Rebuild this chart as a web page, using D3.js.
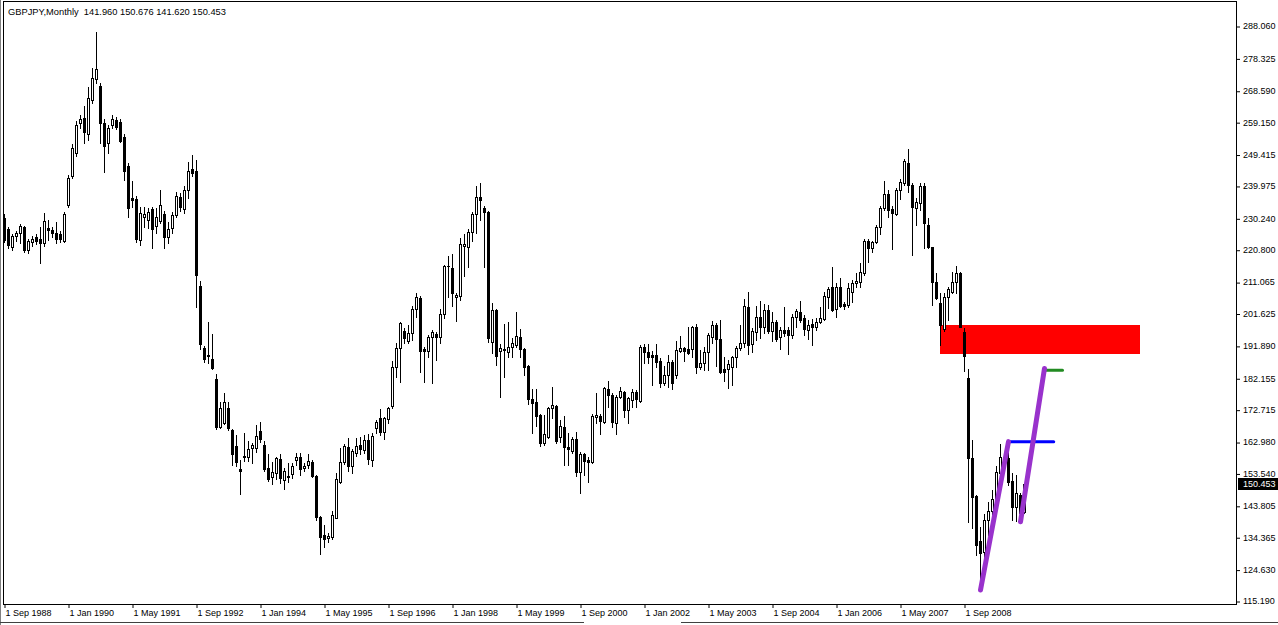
<!DOCTYPE html>
<html><head><meta charset="utf-8">
<script src="https://cdn.jsdelivr.net/npm/d3@7"></script>
<style>
html,body{margin:0;padding:0;background:#fff;}
svg{display:block;}
text{font-family:"Liberation Sans",Arial,sans-serif;}
</style></head><body>
<svg id="chart" width="1278" height="625"></svg>
<script>
// ---- data (monthly GBPJPY, first bar = Sep 1988) ----
const symbolTitle = "GBPJPY,Monthly";
const lastQuote = ["141.960", "150.676", "141.620", "150.453"];
const firstBar = { year: 1988, month: 8 };

const opens = [
230.2,226.9,221.7,225.0,225.7,227.5,220.7,223.0,224.5,224.0,222.9,227.2,226.7,225.7,225.5,223.5,
234.3,243.1,249.8,259.0,260.3,255.5,265.8,272.0,270.0,258.8,253.0,258.4,259.8,259.3,254.6,246.1,
236.2,236.0,223.7,230.5,229.7,233.0,228.0,229.4,231.5,224.7,227.2,231.2,236.7,232.9,238.9,245.1,
244.6,209.9,191.3,189.2,187.9,181.8,167.6,168.6,173.1,166.6,161.8,154.9,158.4,158.4,161.1,161.1,
166.3,162.1,155.1,152.4,153.8,157.8,151.6,152.4,153.4,157.6,158.6,155.1,156.1,157.1,152.8,140.5,
135.0,134.0,134.3,140.2,150.9,157.1,161.4,155.8,159.6,162.1,160.6,163.6,157.6,167.1,170.1,166.1,
169.8,173.8,185.4,191.2,196.4,193.5,195.7,202.9,206.2,190.9,190.5,194.5,195.5,194.5,201.5,215.8,
215.2,206.5,206.9,222.0,221.7,226.2,231.5,236.6,233.2,232.2,193.2,202.7,190.5,190.6,190.2,191.5,
192.2,194.5,190.9,185.8,175.8,175.1,171.1,162.8,164.6,173.1,173.9,164.4,167.4,161.4,160.4,163.8,
154.1,159.4,157.6,157.1,170.6,170.8,169.1,178.8,177.1,168.8,176.4,178.1,172.6,175.6,178.1,175.4,
191.7,190.2,189.2,189.2,187.4,180.8,183.1,187.1,183.1,190.4,191.4,190.9,191.1,197.5,185.6,186.6,
189.9,194.5,198.2,193.9,184.8,184.8,185.6,188.6,191.2,192.7,203.7,192.4,196.2,200.7,197.7,202.7,
196.5,199.2,194.5,196.7,196.7,195.2,200.5,202.2,200.2,196.7,198.5,197.7,199.2,199.9,206.5,209.7,
202.9,209.7,204.5,204.2,208.2,210.7,211.0,213.7,223.5,221.2,223.2,227.5,233.2,237.6,232.9,231.5,
238.8,241.0,247.0,240.3,233.2,234.9,239.9,228.2,221.5,211.2,204.7,196.9,206.7,208.2,211.2,213.9,
196.2,182.2,158.1,146.8,133.3,130.0,139.5,142.1,145.8,153.8,158.6,158.1,151.4,143.6,147.1,141.96
];
const highs = [
231.5,227.5,225.5,226.5,228.5,228.0,224.0,225.0,225.5,227.7,231.9,229.7,227.5,229.0,226.5,232.2,
243.3,252.5,259.5,261.3,264.0,269.8,275.3,286.3,271.0,260.0,258.3,261.3,260.8,260.0,255.5,247.0,
241.5,237.0,233.7,233.7,233.2,233.5,233.2,238.8,232.5,229.2,232.0,238.3,238.0,240.0,247.3,249.3,
247.8,211.4,191.9,199.0,195.5,183.4,174.9,177.6,175.1,167.0,165.1,157.6,165.8,163.4,162.8,168.1,
169.1,163.4,159.4,157.1,158.6,159.4,155.1,156.6,156.6,159.6,159.6,156.8,159.4,157.6,153.0,140.7,
138.1,135.5,142.1,153.6,161.3,162.5,164.3,161.0,164.1,164.6,165.1,165.4,165.6,169.6,172.8,170.6,
173.6,187.2,192.9,199.2,197.2,198.2,203.9,207.7,206.9,191.5,195.2,196.7,196.2,202.9,216.2,218.9,
219.4,207.7,224.2,225.5,227.0,232.2,240.0,241.0,233.9,232.5,204.9,203.0,192.5,198.5,199.2,194.2,
202.2,196.9,191.4,186.0,178.8,178.8,171.5,171.1,173.5,179.4,174.2,169.6,170.8,165.8,164.6,166.1,
160.0,159.8,158.5,171.4,177.6,171.5,179.5,181.4,177.8,177.2,179.6,178.4,176.6,178.8,178.5,192.2,
192.5,192.5,190.5,192.5,188.1,185.8,189.1,187.5,193.4,194.9,191.5,197.5,197.8,198.5,190.6,191.7,
195.9,199.5,198.9,199.7,188.6,187.6,188.8,191.8,198.2,205.9,208.2,197.2,203.9,205.5,204.5,204.2,
202.2,199.7,197.7,203.7,197.7,201.5,202.9,205.5,201.2,199.7,199.9,200.2,203.5,208.2,209.5,215.5,
210.9,212.2,205.0,210.9,211.7,213.7,216.7,223.9,223.9,223.5,228.2,233.9,241.6,238.8,233.9,239.3,
242.0,248.0,251.0,241.0,236.3,240.8,240.9,230.2,221.7,213.7,207.9,207.7,209.5,214.2,215.9,214.2,
197.2,184.9,163.6,147.2,137.5,141.4,145.1,148.6,155.8,162.4,159.8,163.1,153.6,153.1,147.6,150.676
];
const lows = [
223.0,221.2,220.7,223.5,222.7,220.2,219.7,222.0,222.5,216.9,222.0,223.7,224.5,222.9,223.0,223.0,
233.6,242.5,249.0,257.5,252.8,253.8,265.0,271.0,252.8,244.3,249.8,257.5,257.0,253.3,241.8,230.7,
233.7,223.2,222.2,227.7,227.2,221.2,225.7,228.7,221.2,222.9,225.7,230.5,232.5,231.7,236.3,243.0,
203.7,191.0,186.9,186.6,184.8,166.8,167.1,168.4,166.6,156.1,155.8,147.3,157.4,157.4,156.6,160.1,
163.1,154.4,151.4,150.4,151.8,150.8,148.8,151.1,152.1,156.1,153.1,154.4,155.1,152.4,139.4,129.2,
131.3,133.0,133.7,140.0,150.6,156.4,154.4,153.8,158.8,159.4,159.8,156.4,155.8,165.6,165.1,163.8,
168.8,173.1,182.4,181.1,192.7,192.9,193.7,200.5,184.1,181.1,188.4,180.6,187.5,192.9,200.2,206.5,
203.9,199.5,205.7,212.9,215.7,223.5,225.9,229.7,215.7,193.2,189.7,186.1,176.6,182.6,188.6,188.6,
191.5,188.4,183.1,174.4,165.6,167.8,161.8,162.1,164.1,170.1,162.6,163.1,156.1,156.1,159.6,152.8,
147.8,153.1,151.1,156.6,168.6,165.4,168.8,173.6,167.6,165.4,176.1,170.6,168.8,173.4,173.4,175.1,
186.6,186.6,180.1,185.6,179.6,180.1,179.6,178.8,182.1,190.1,187.4,189.4,188.5,183.8,184.8,184.6,
184.6,192.7,185.8,183.8,181.4,179.1,180.1,185.6,190.6,191.7,189.4,189.9,193.7,194.4,195.7,195.7,
193.5,193.5,190.9,194.9,189.4,194.4,197.7,199.2,195.2,193.9,192.2,196.7,198.7,199.7,203.2,202.5,
200.7,203.7,203.0,203.7,205.2,209.5,209.5,213.2,217.2,220.2,222.7,225.5,232.7,230.7,220.9,231.2,
235.9,240.3,238.3,219.2,228.2,232.7,221.2,221.2,204.2,205.9,192.2,196.5,199.7,207.9,207.7,197.5,
184.2,138.8,137.0,129.0,118.8,125.5,135.0,137.5,143.5,150.5,155.6,150.0,139.6,139.1,139.0,141.62
];
const closes = [
223.7,222.2,224.9,225.8,228.0,220.7,223.4,224.0,223.5,222.7,229.3,226.7,225.9,224.0,224.0,231.5,
242.3,251.3,258.2,260.1,256.3,266.3,272.3,275.0,258.8,252.1,257.3,260.1,257.8,253.6,244.6,233.3,
235.7,223.9,231.9,231.4,232.2,226.9,230.5,234.2,224.7,226.9,231.2,236.9,233.5,238.9,244.5,244.0,
213.2,192.4,187.9,188.7,185.1,167.6,173.1,174.9,167.1,159.4,156.9,154.4,158.8,160.8,162.1,164.8,
163.8,154.9,151.8,154.1,158.1,152.1,154.3,152.9,155.8,158.6,154.8,155.9,157.3,152.9,140.5,134.5,
133.7,134.7,141.0,151.9,157.1,161.8,155.8,160.3,161.8,160.8,163.6,157.8,164.9,169.1,166.1,170.1,
173.1,185.4,191.4,198.7,194.2,195.9,202.9,206.5,190.5,190.5,194.5,196.0,194.7,201.4,215.9,216.0,
207.7,207.2,222.4,222.5,226.2,231.5,236.8,235.6,232.2,194.2,202.7,188.9,191.2,191.1,191.5,192.7,
194.9,190.9,185.6,175.8,174.8,170.8,162.8,165.4,173.1,174.1,163.4,167.8,161.4,160.8,163.8,154.1,
159.4,157.4,157.1,170.8,171.1,169.4,179.1,177.1,169.1,176.6,178.4,172.6,176.1,178.1,175.8,191.7,
189.9,188.6,188.6,187.1,180.6,183.1,187.1,180.6,190.6,191.4,190.4,189.6,197.5,185.6,186.6,190.2,
195.2,198.2,193.9,184.1,184.1,186.4,188.6,191.4,192.7,203.9,192.2,196.4,200.7,197.7,202.7,196.5,
199.2,193.9,196.7,195.9,195.2,200.7,202.5,199.7,196.9,198.2,197.7,199.2,200.2,206.9,208.9,202.7,
209.5,203.9,203.9,209.2,210.7,211.4,214.0,223.5,221.2,223.2,227.5,233.2,237.6,232.7,231.7,238.8,
241.3,247.6,240.3,233.5,235.2,239.9,228.7,221.7,211.2,206.2,198.2,206.7,208.9,211.2,213.7,197.7,
188.7,158.1,146.6,132.0,129.7,139.5,142.1,145.8,154.1,158.4,157.6,151.1,143.6,147.6,141.6,150.453
];

const priceTicks = [288.060, 278.325, 268.590, 259.150, 249.415, 239.975, 230.240, 220.800,
  211.065, 201.625, 191.890, 182.155, 172.715, 162.980, 153.540, 143.805, 134.365, 124.630, 115.190];
const dateLabels = ["1 Sep 1988", "1 Jan 1990", "1 May 1991", "1 Sep 1992", "1 Jan 1994",
  "1 May 1995", "1 Sep 1996", "1 Jan 1998", "1 May 1999", "1 Sep 2000", "1 Jan 2002",
  "1 May 2003", "1 Sep 2004", "1 Jan 2006", "1 May 2007", "1 Sep 2008"];
const lastPrice = 150.453;

// drawn objects: [bar index, price]
const zoneStart = [234, 198.2];
const zoneEnd = [284, 189.35];
const purpleLegA = [[244, 118.5], [251, 163.1]];
const purpleLegB = [[254, 139.0], [260, 185.1]];
const blueLevel = [[251, 163.1], [262.3, 163.1]];
const greenLevel = [[260, 184.6], [264.5, 184.6]];

// ---- drawing ----
const monthNames = ["Jan","Feb","Mar","Apr","May","Jun","Jul","Aug","Sep","Oct","Nov","Dec"];
const barIndexOf = lbl => {
  const p = lbl.split(" ");
  return (+p[2] - firstBar.year) * 12 + monthNames.indexOf(p[1]) - firstBar.month;
};

const svg = d3.select("#chart");
const plotL = 3, plotR = 1236, plotT = 1, plotB = 604;
const x = d3.scaleLinear().domain([0, 308]).range([4, 1236]);
const y = d3.scaleLinear().domain([115.19, 288.06]).range([601, 26]);

svg.append("defs").append("clipPath").attr("id", "plotclip")
  .append("rect").attr("x", plotL + 1).attr("y", plotT + 1)
  .attr("width", plotR - plotL - 1).attr("height", plotB - plotT - 1);

const plot = svg.append("g").attr("clip-path", "url(#plotclip)");

// supply zone (background object)
plot.append("rect")
  .attr("x", Math.round(x(zoneStart[0])))
  .attr("y", Math.round(y(zoneStart[1])))
  .attr("width", Math.round(x(zoneEnd[0])) - Math.round(x(zoneStart[0])))
  .attr("height", Math.round(y(zoneEnd[1])) - Math.round(y(zoneStart[1])))
  .attr("fill", "#ff0000");

// candles
const bars = d3.range(opens.length).map(i => ({
  i, o: opens[i], h: highs[i], l: lows[i], c: closes[i]
}));
const cg = plot.append("g");
bars.forEach(b => {
  const cx = Math.round(x(b.i));
  const hi = Math.max(b.h, b.o, b.c), lo = Math.min(b.l, b.o, b.c);
  const yh = Math.round(y(hi)), yl = Math.round(y(lo));
  cg.append("rect").attr("x", cx).attr("y", yh).attr("width", 1)
    .attr("height", yl - yh + 1).attr("fill", "#000");
  const top = Math.round(y(Math.max(b.o, b.c)));
  const bot = Math.round(y(Math.min(b.o, b.c)));
  cg.append("rect").attr("x", cx - 1).attr("y", top).attr("width", 3)
    .attr("height", Math.max(1, bot - top + 1)).attr("fill", "#000");
  if (b.c > b.o && bot - top >= 2) {
    cg.append("rect").attr("x", cx).attr("y", top + 1).attr("width", 1)
      .attr("height", bot - top - 1).attr("fill", "#fff");
  }
});

// trend objects
const seg = (pts, color, w) => plot.append("line")
  .attr("x1", x(pts[0][0]) + 0.5).attr("y1", y(pts[0][1]))
  .attr("x2", x(pts[1][0]) + 0.5).attr("y2", y(pts[1][1]))
  .attr("stroke", color).attr("stroke-width", w).attr("stroke-linecap", "round");
seg(blueLevel, "#0000ff", 3);
seg(greenLevel, "#228b22", 3);
seg(purpleLegA, "#9932cc", 5);
seg(purpleLegB, "#9932cc", 5);

// frame
svg.append("rect").attr("x", plotL + 0.5).attr("y", plotT + 0.5)
  .attr("width", plotR - plotL).attr("height", plotB - plotT)
  .attr("fill", "none").attr("stroke", "#000");
svg.append("line").attr("x1", 0.5).attr("x2", 0.5).attr("y1", 0).attr("y2", 625)
  .attr("stroke", "#808080");

// price axis
const yAxis = svg.append("g").attr("transform", `translate(${plotR},0)`)
  .call(d3.axisRight(y).tickValues(priceTicks).tickSize(4).tickPadding(3)
    .tickFormat(d3.format(".3f")));
yAxis.select(".domain").remove();
yAxis.selectAll("line").attr("stroke", "#000").attr("transform", "translate(0,0.5)");
yAxis.selectAll("text").attr("font-size", 9).attr("fill", "#000")
  .attr("font-family", "Liberation Sans, Arial, sans-serif");

// last price box
const lpY = Math.round(y(lastPrice));
svg.append("rect").attr("x", plotR + 2).attr("y", lpY - 6).attr("width", 40).attr("height", 12)
  .attr("fill", "#000");
svg.append("text").attr("x", plotR + 7).attr("y", lpY).attr("dy", "0.35em")
  .attr("font-size", 9).attr("fill", "#fff").text(d3.format(".3f")(lastPrice));

// date axis
const xAxis = svg.append("g").attr("transform", `translate(0.5,${plotB})`)
  .call(d3.axisBottom(x).tickValues(dateLabels.map(barIndexOf)).tickSize(4)
    .tickFormat((d, k) => dateLabels[k]));
xAxis.select(".domain").remove();
xAxis.selectAll("line").attr("stroke", "#000");
xAxis.selectAll("text").attr("font-size", 9).attr("fill", "#000")
  .attr("text-anchor", "start").attr("x", 0.5).attr("y", 12).attr("dy", 0)
  .attr("font-family", "Liberation Sans, Arial, sans-serif");

// bottom window line
svg.append("line").attr("x1", 0).attr("x2", 584).attr("y1", 622.5).attr("y2", 622.5).attr("stroke", "#404040");
svg.append("line").attr("x1", 681).attr("x2", 1278).attr("y1", 622.5).attr("y2", 622.5).attr("stroke", "#404040");

// title
svg.append("text").attr("x", 8).attr("y", 15).attr("font-size", 9.3).attr("fill", "#000")
  .attr("xml:space", "preserve")
  .text(symbolTitle + "  " + lastQuote.join(" "));
</script>
</body></html>
